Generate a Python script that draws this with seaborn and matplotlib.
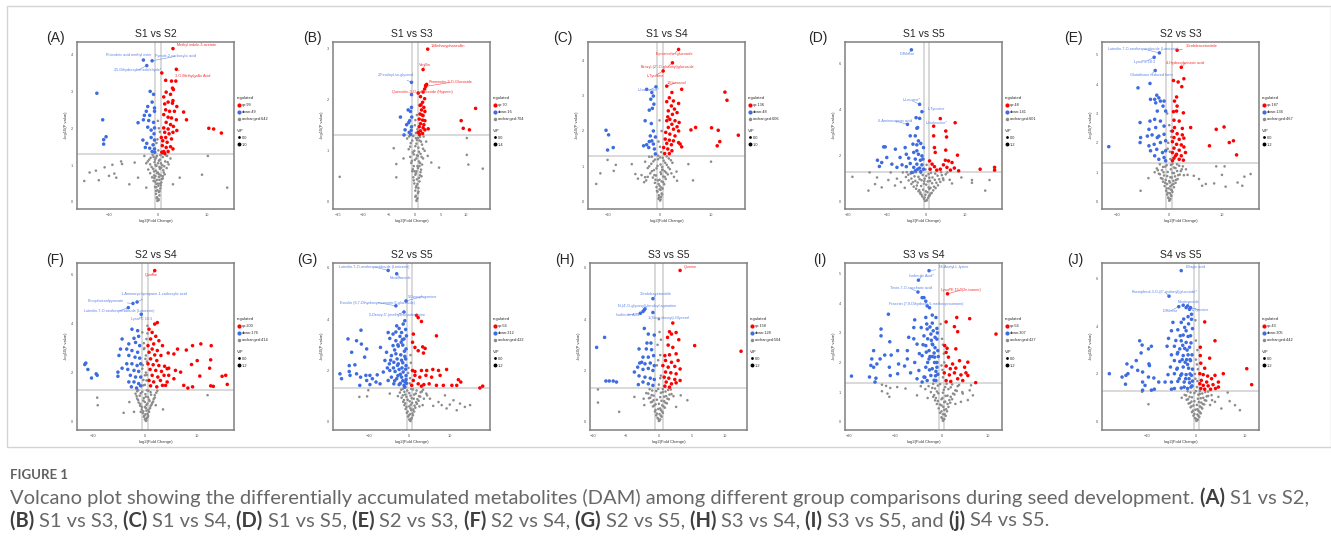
import matplotlib
matplotlib.use("Agg")
import matplotlib.pyplot as plt
from matplotlib.lines import Line2D
from matplotlib.patches import Rectangle
import seaborn as sns
import pandas as pd

sns.set_style("white")
plt.rcParams["font.family"] = ["Liberation Sans", "DejaVu Sans"]

W, H = 1331, 540

# ---------------- data (log2 fold change, -log10 p) ----------------
# A: S1 vs S2
a_up = [(0.8,3.5),(1.6,3.3),(2.8,3.28),(3.7,3.28),(3.0,3.09),(3.2,3.05),(1.7,2.98),(2.6,2.92),(1.2,2.85),(3.1,2.75),
        (2.1,2.71),(1.4,2.66),(3.0,2.68),(3.9,2.59),(5.3,2.44),(5.9,2.23),(1.6,2.5),(2.4,2.46),(3.4,2.46),(1.2,2.37),
        (2.1,2.3),(2.8,2.28),(3.8,2.23),(1.7,2.16),(2.6,2.1),(3.2,2.05),(1.2,2.01),(2.1,1.98),(1.4,1.89),(2.3,1.85),
        (3.1,1.89),(3.9,1.94),(1.6,1.75),(1.0,1.66),(1.9,1.62),(2.8,1.71),(0.9,1.53),(1.7,1.48),(2.6,1.5),(1.2,1.37),
        (2.1,1.37),(3.1,1.44),(0.8,1.35),(1.4,1.32),(10.5,2.0),(11.5,1.98),(13.1,1.87),(0.7,1.75)]
a_down = [(-12.6,2.95),(-11.4,2.23),(-10.7,1.77),(-11.2,1.69),(-11.2,1.57),(-1.6,3.0),(-0.9,2.92),(-1.2,2.71),(-2.1,2.59),
          (-0.7,2.55),(-2.4,2.46),(-0.7,2.46),(-2.8,2.35),(-1.7,2.35),(-4.1,2.15),(-3.0,2.23),(-1.9,2.21),(-0.9,2.16),
          (-0.7,2.01),(-2.1,2.03),(-1.4,1.95),(-0.8,1.85),(-3.1,1.68),(-2.3,1.59),(-1.4,1.75),(-0.7,1.68),(-1.0,1.55),
          (-2.6,1.48),(-1.7,1.46),(-0.7,1.44),(-0.65,1.35),(-1.2,1.37)]
a_none = [(-0.1,0.03),(0.1,0.08),(-0.2,0.13),(0.3,0.18),(-0.4,0.22),(0.2,0.27),(-0.1,0.32),(0.5,0.37),(-0.6,0.41),(0.1,0.44),
          (-0.3,0.49),(0.7,0.53),(-0.9,0.57),(0.3,0.6),(1.0,0.64),(-1.2,0.67),(-0.5,0.7),(0.6,0.72),(1.4,0.75),(-1.6,0.78),
          (0.0,0.8),(-0.8,0.83),(1.1,0.86),(-2.0,0.88),(0.4,0.9),(1.8,0.92),(-1.3,0.95),(-0.3,0.98),(0.9,1.0),(2.2,1.02),
          (-2.4,1.05),(-0.7,1.08),(1.5,1.1),(0.2,1.12),(-1.8,1.15),(2.6,1.18),(-0.4,1.2),(1.0,1.22),(-2.8,1.25),(0.5,1.27),
          (-1.1,1.28),(0.1,1.4),(-0.3,1.6),(0.4,1.9),(0.0,2.2),(-0.2,0.6),(0.3,0.95),(-0.6,1.15),(0.0,0.5),(0.2,0.68),
          (-0.4,0.85),(0.6,1.05),(-1.5,1.2),(1.9,1.25),
          (0.15,0.05),(-0.25,0.1),(0.35,0.3),(-0.35,0.4),(0.45,0.5),(-0.55,0.55),(0.8,0.62),(-0.75,0.65),(0.25,0.75),
          (-0.15,0.78),(1.2,0.8),(-1.0,0.9),(0.7,0.93),(-0.5,1.0),(1.3,0.97),(-1.6,1.02),(0.0,1.05),(2.0,1.08),(-2.1,1.1),
          (0.4,1.15),(-0.9,1.22),(1.6,1.27),(-0.2,1.25),(0.8,1.3),(-0.1,1.7),(0.2,2.0),(-0.4,0.3),(0.6,0.45),(-0.8,0.72),
          (1.0,0.7),
          (-15.2,0.57),(-14.1,0.8),(-12.8,0.85),(-12.2,0.59),(-11.0,0.94),(-10.1,0.71),(-9.4,1.01),(-9.0,0.77),(-7.6,1.1),
          (-7.4,1.03),(-4.8,1.07),(-8.6,0.66),(10.3,1.25),(9.1,0.74),(14.3,0.39),(-4.1,0.66),(-5.9,0.48),(-2.4,0.39),
          (3.1,0.48),(4.5,0.66)]
a_named = [("Methyl indole-3-acetate", 3.1, 4.16, "up"), ("Ricinoleic acid methyl ester", -3.0, 3.85, "down"),
           ("Pyrrole-2-carboxylic acid", -1.2, 3.83, "down"), ("2,5-Dihydroxybenzaldehyde*", -2.3, 3.7, "down"),
           ("3-O-Methylgallic Acid", 3.8, 3.6, "up")]

# B: S1 vs S3
b_up = [(0.65,2.13),(1.6,2.15),(1.1,2.06),(1.9,2.02),(1.5,1.95),(1.0,1.89),(1.75,1.85),(1.3,1.8),(1.95,1.77),(1.0,1.72),
        (1.6,1.69),(0.85,1.62),(1.5,1.6),(1.95,1.59),(1.1,1.53),(1.75,1.51),(0.85,1.47),(1.6,1.45),(1.1,1.39),(1.95,1.41),
        (0.65,1.36),(1.5,1.34),(2.6,1.43),(11.8,1.83),(9.0,1.59),(9.4,1.44),(10.6,1.41),(2.1,2.28),(2.3,2.3),(1.2,1.9),
        (1.4,1.7),(0.9,1.32)]
b_down = [(-0.65,2.1),(-0.65,1.85),(-1.3,1.8),(-0.85,1.77),(-2.8,1.66),(-1.0,1.59),(-1.6,1.51),(-0.65,1.47),(-1.9,1.41),
          (-1.1,1.36),(-2.1,1.31),(-0.8,1.32),(-0.6,1.66),(-0.7,1.4),(-1.2,1.55)]
b_none = [(0.3,0.02),(0.5,0.07),(0.2,0.12),(0.6,0.17),(0.1,0.22),(0.7,0.27),(0.3,0.31),(-0.1,0.36),(0.9,0.4),(0.4,0.44),
          (-0.3,0.48),(1.0,0.52),(0.2,0.56),(-0.5,0.6),(1.2,0.63),(0.6,0.66),(-0.2,0.7),(1.4,0.73),(-0.7,0.76),(0.8,0.79),
          (0.0,0.82),(1.6,0.85),(-0.9,0.88),(0.4,0.91),(1.1,0.94),(-0.4,0.97),(1.9,1.0),(-1.2,1.03),(0.7,1.06),(0.1,1.09),
          (1.4,1.12),(-0.8,1.15),(2.2,1.18),(0.4,1.21),(-1.5,1.24),(1.0,1.27),(-0.3,1.29),(0.2,1.35),(0.5,1.42),(0.0,1.5),
          (0.3,0.6),(0.6,0.9),(0.9,1.2),(-0.1,1.0),(1.3,0.5),
          (0.4,0.05),(0.1,0.1),(0.7,0.2),(0.2,0.28),(0.5,0.35),(-0.2,0.42),(0.8,0.47),(0.1,0.53),(1.1,0.58),(-0.4,0.64),
          (0.5,0.7),(1.0,0.76),(-0.6,0.8),(0.3,0.85),(1.3,0.88),(-0.2,0.93),(0.8,0.98),(1.6,1.04),(-0.9,1.08),(0.3,1.14),
          (1.2,1.18),(-0.5,1.2),(0.6,1.25),(1.7,1.28),(-1.1,1.28),(0.1,1.6),(0.4,1.7),(0.2,1.25),(0.9,0.7),(-0.1,0.6),
          (-14.6,0.49),(-4.1,1.05),(-3.6,0.74),(4.7,0.67),(10.1,0.92),(10.1,1.25),(10.4,0.73),(13.2,0.65),(3.2,0.77),
          (-3.6,0.48),(2.5,0.9),(-2.2,0.85)]
b_named = [("1-Methoxyphaseollin", 2.5, 2.99, "up"), ("Vanillin", 1.6, 2.59, "up"),
           ("Rhamnetin-3-O-Glucoside", 2.1, 2.26, "up"), ("Quercetin-3-O-galactoside (Hyperin)", 1.9, 2.21, "up"),
           ("2-Feruloyl-sn-glycerol", -0.65, 2.34, "down")]

# C: S1 vs S4
c_up = [(4.3,3.18),(2.4,3.09),(1.9,2.94),(2.7,2.85),(1.4,2.83),(3.7,2.78),(2.3,2.71),(2.9,2.62),(1.7,2.57),(3.4,2.52),
        (2.5,2.47),(1.6,2.4),(2.0,2.33),(3.0,2.29),(3.8,2.24),(1.4,2.29),(2.4,2.19),(3.4,2.12),(1.7,2.1),(2.7,2.05),
        (3.7,2.0),(1.2,1.96),(2.0,1.91),(3.0,1.86),(1.1,1.77),(1.9,1.74),(2.7,1.72),(3.7,1.67),(1.4,1.65),(2.3,1.61),
        (0.8,1.53),(1.6,1.49),(2.4,1.44),(4.0,1.63),(4.3,1.55),(1.0,1.36),(1.9,1.36),
        (12.7,3.1),(13.1,2.87),(6.1,2.03),(7.0,2.1),(10.1,2.09),(11.4,2.02),(15.3,1.88),(11.7,1.7),(11.2,1.58)]
c_down = [(-2.5,3.18),(-1.5,3.09),(-1.2,2.99),(-1.7,2.9),(-1.1,2.76),(-2.0,2.59),(-1.4,2.64),(-2.8,2.29),(-1.6,2.21),
          (-1.2,2.0),(-1.8,1.86),(-0.8,1.83),(-1.5,1.72),(-2.0,1.7),(-1.2,1.63),(-3.1,1.58),(-2.1,1.53),(-1.0,1.49),
          (-2.5,1.61),(-0.8,1.35),(-10.4,2.02),(-9.9,1.89),(-10.1,1.46),(-9.0,1.53)]
c_none = [(0.1,0.03),(-0.2,0.08),(0.3,0.13),(-0.1,0.18),(0.4,0.23),(-0.4,0.28),(0.2,0.33),(0.6,0.37),(-0.6,0.41),(0.0,0.45),
          (0.9,0.49),(-0.9,0.53),(0.4,0.57),(-0.3,0.6),(1.2,0.64),(-1.3,0.68),(0.7,0.71),(-0.7,0.74),(1.6,0.77),(-1.8,0.8),
          (0.2,0.83),(1.0,0.86),(-1.1,0.89),(2.0,0.92),(-2.3,0.95),(0.5,0.98),(-0.4,1.01),(1.4,1.04),(-1.6,1.07),(2.5,1.1),
          (-2.8,1.13),(0.8,1.16),(-0.9,1.19),(1.8,1.22),(0.1,1.25),(-2.0,1.27),(0.3,1.4),(-0.2,1.7),(0.4,2.0),(0.0,2.3),
          (-3.5,0.75),(-4.2,0.65),(-3.0,0.55),(2.8,0.7),(3.3,0.85),(-2.6,0.6),(0.0,0.62),(0.5,0.9),
          (0.2,0.06),(-0.1,0.12),(0.5,0.2),(-0.5,0.3),(0.3,0.4),(-0.2,0.5),(0.7,0.55),(-0.8,0.62),(1.0,0.7),(-1.0,0.75),
          (0.3,0.78),(1.3,0.82),(-1.5,0.86),(0.6,0.9),(-0.6,0.94),(1.7,0.97),(-2.0,1.0),(0.2,1.05),(1.1,1.1),(-1.2,1.14),
          (2.2,1.17),(-0.3,1.2),(0.6,1.24),(-1.5,1.27),(1.4,1.28),(0.1,1.55),(-0.3,1.3),(2.3,0.8),(-2.3,0.7),(0.0,0.35),
          (-10.1,1.18),(-8.5,1.04),(-8.9,0.87),(-5.4,1.06),(-12.3,0.5),(5.6,1.06),(10.0,1.13),(-4.7,0.78),(-2.8,0.69),
          (3.4,0.59),(-11.5,0.8),(6.5,0.6)]
c_named = [("Epicatechin glucoside", 3.7, 4.31, "up"), ("Benzyl-(2''-O-glucosyl)glucoside", 2.5, 3.93, "up"),
           ("L-Tyrosine", 0.7, 3.7, "up"), ("1-Eicosanol", 1.4, 3.27, "up"), ("L-Isoleucine*", -0.7, 3.25, "down")]

# D: S1 vs S5
d_up = [(3.6,3.61),(7.4,3.43),(1.9,3.28),(5.0,3.07),(5.2,2.81),(1.9,2.86),(2.1,2.35),(2.3,2.14),(8.0,2.02),(5.0,2.24),
        (0.85,1.77),(1.5,1.63),(2.1,1.52),(4.9,1.8),(5.7,1.77),(6.6,1.7),(4.4,1.6),(5.3,1.49),(7.2,1.46),(1.0,1.41),
        (2.7,1.37),(8.3,1.34),(13.8,1.41),(17.5,1.49),(17.5,1.37),(3.6,1.41),(6.2,1.37)]
d_down = [(-2.6,3.65),(-2.2,3.22),(-2.4,3.19),(-4.1,2.86),(-2.8,2.86),(-2.0,2.64),(-3.4,2.5),(-2.4,2.47),(-1.4,2.53),
          (-5.4,2.35),(-7.9,2.28),(-10.5,2.38),(-10.9,2.38),(-5.1,2.06),(-3.2,2.14),(-2.0,2.06),(-1.1,1.99),(-6.7,1.92),
          (-4.5,1.89),(-2.8,1.85),(-1.5,1.8),(-10.1,1.92),(-12.5,1.8),(-11.4,1.7),(-12.0,1.53),(-8.8,1.63),(-6.2,1.6),
          (-4.1,1.66),(-2.4,1.63),(-1.1,1.6),(-5.1,1.52),(-3.2,1.49),(-1.7,1.46),(-0.7,1.41),(-2.8,1.34),(-1.4,1.31),
          (-7.5,1.49),(-3.7,1.27),(-2.2,1.41),(-0.85,1.85),(-0.7,2.35),(-2.4,2.21)]
d_none = [(-0.3,0.03),(0.2,0.08),(-0.6,0.12),(0.5,0.17),(-1.0,0.22),(0.9,0.27),(-0.2,0.3),(-1.5,0.34),(1.4,0.38),(0.3,0.41),
          (-2.0,0.45),(1.8,0.49),(-0.8,0.52),(-2.6,0.56),(2.4,0.59),(0.6,0.62),(-3.2,0.65),(-1.3,0.68),(3.0,0.71),(0.0,0.74),
          (-3.8,0.77),(1.5,0.8),(-2.2,0.83),(3.6,0.86),(-0.5,0.89),(-4.5,0.92),(2.2,0.95),(-1.7,0.98),(4.3,1.01),(0.8,1.04),
          (-5.2,1.07),(-3.0,1.1),(2.9,1.13),(-0.9,1.16),(5.0,1.19),(-4.0,1.22),(1.2,1.25),(-6.0,1.27),(3.8,1.28),(-2.6,1.28),
          (-0.2,1.4),(0.1,1.6),(-1.5,0.4),(1.1,0.6),(-2.8,0.9),(-6.5,0.85),(-7.5,1.0),(6.0,0.95),(-5.5,0.6),
          (0.1,0.05),(-0.4,0.18),(0.7,0.25),(-1.2,0.3),(1.1,0.35),(-0.1,0.45),(-1.8,0.5),(0.8,0.55),(2.0,0.65),(-2.4,0.7),
          (-0.6,0.78),(2.6,0.82),(-3.4,0.85),(0.4,0.88),(-1.2,0.93),(3.3,0.97),(-3.8,1.0),(1.6,1.05),(-2.0,1.08),(0.0,1.12),
          (4.0,1.15),(-4.6,1.17),(2.3,1.22),(-1.4,1.25),(5.4,1.27),(-5.0,1.28),(0.6,1.2),(-3.3,1.25),(-0.4,1.0),(1.0,0.9),
          (-18.9,1.08),(-14.5,1.27),(-12.6,1.05),(-13.1,0.76),(-14.8,0.48),(-11.4,0.62),(-9.1,1.27),(-9.7,0.94),(9.0,1.05),
          (11.7,0.94),(11.7,0.82),(16.2,0.94),(15.1,0.48),(6.6,0.79),(4.4,0.94),(-8.0,0.7)]
d_named = [("D-Ribose", -3.8, 6.6, "down"), ("L-Leucine*", -1.7, 4.23, "down"), ("L-Tyrosine", -1.1, 3.91, "down"),
           ("6-Aminocaproic acid", -4.8, 3.36, "down"), ("L-Isoleucine*", -1.7, 3.62, "down")]

# E: S2 vs S3
e_up = [(0.8,4.12),(2.8,4.18),(1.7,4.07),(2.4,3.91),(1.4,3.56),(1.0,3.42),(1.5,3.25),(0.8,3.06),(1.4,3.08),(2.7,3.02),
        (0.9,2.77),(1.9,2.74),(1.0,2.52),(2.5,2.49),(4.1,2.52),(0.6,2.4),(1.5,2.31),(2.5,2.27),(0.9,2.18),(1.9,2.12),
        (2.8,2.16),(0.6,2.04),(1.4,1.95),(2.3,1.93),(0.9,1.82),(1.9,1.75),(2.8,1.86),(0.6,1.67),(1.4,1.61),(2.3,1.56),
        (0.9,1.48),(1.9,1.44),(0.6,1.39),(1.2,1.56),(2.7,1.41),(9.0,2.46),(10.5,2.54),(12.3,2.07),(11.5,2.01),(7.7,1.9),
        (12.9,1.59),(3.1,1.67)]
e_down = [(-6.0,3.87),(-3.7,4.02),(-2.4,3.62),(-3.6,3.48),(-2.8,3.48),(-2.0,3.53),(-1.7,3.42),(-2.6,3.36),(-1.0,3.42),
          (-2.3,3.08),(-0.7,3.08),(-1.2,3.25),(-5.6,2.69),(-3.7,2.74),(-2.8,2.8),(-1.7,2.74),(-3.9,2.46),(-2.6,2.52),
          (-1.0,2.57),(-5.5,2.18),(-5.6,2.01),(-4.2,2.23),(-3.3,2.27),(-2.0,2.23),(-1.0,2.29),(-3.9,1.9),(-2.9,1.95),
          (-1.7,2.01),(-0.7,2.07),(-3.6,1.73),(-2.4,1.78),(-1.3,1.67),(-2.8,1.56),(-1.0,1.5),(-2.0,1.44),(-0.7,1.39),
          (-11.6,1.87),(-0.7,1.73),(-2.3,2.18)]
e_none = [(0.0,0.03),(0.2,0.09),(-0.2,0.14),(0.4,0.19),(-0.4,0.24),(0.1,0.29),(0.6,0.33),(-0.6,0.37),(0.3,0.41),(-0.1,0.45),
          (0.9,0.49),(-0.9,0.53),(0.5,0.57),(-0.4,0.6),(1.2,0.64),(-1.2,0.68),(0.8,0.71),(-0.7,0.74),(1.6,0.77),(-1.6,0.8),
          (0.2,0.83),(1.1,0.86),(-1.0,0.89),(2.0,0.92),(-2.0,0.95),(0.6,0.98),(-0.3,1.01),(1.5,1.04),(-1.4,1.07),(2.4,1.1),
          (-2.4,1.13),(0.9,1.16),(-0.8,1.19),(1.9,1.22),(0.3,1.25),(-1.8,1.27),(0.2,1.45),(-0.3,1.8),(0.4,2.2),(0.0,2.6),
          (-0.4,3.0),(2.8,0.9),(3.2,1.1),(-2.8,1.0),(0.1,0.65),
          (0.1,0.06),(-0.1,0.11),(0.3,0.22),(-0.3,0.3),(0.5,0.38),(-0.5,0.45),(0.2,0.52),(0.8,0.6),(-0.8,0.64),(0.0,0.7),
          (1.3,0.74),(-1.3,0.78),(0.5,0.82),(-0.4,0.87),(1.7,0.9),(-1.8,0.93),(0.9,0.97),(-1.1,1.0),(2.2,1.04),(-2.2,1.07),
          (0.3,1.1),(1.2,1.14),(-1.2,1.18),(2.6,1.2),(-0.5,1.24),(1.5,1.27),(0.6,1.28),(0.1,1.7),(-0.2,2.0),(0.3,2.4),
          (-5.5,0.37),(9.0,1.2),(10.6,1.2),(10.1,0.91),(15.6,0.94),(14.4,0.85),(4.7,0.88),(5.7,0.77),(7.0,0.6),(8.6,0.62),
          (10.8,0.51),(13.1,0.65),(14.0,0.54),(3.5,0.91),(6.3,0.54),(-4.0,0.8)]
e_named = [("Luteolin-7-O-neohesperidoside (Lonicerin)", -1.9, 5.06, "down"), ("3-Indoleacetonitrile", 1.5, 5.15, "up"),
           ("LysoPC 18:3", -2.9, 4.91, "down"), ("4-Hydroxybenzoic acid", 2.3, 4.57, "up"),
           ("Glutathione reduced form", -2.7, 4.46, "down")]

# F: S2 vs S4
f_up = [(0.8,3.77),(1.9,3.98),(2.4,4.04),(1.4,3.64),(2.1,3.48),(1.1,3.37),(2.7,3.3),(1.7,3.17),(0.6,3.1),(3.4,3.1),
        (1.4,2.96),(2.4,2.9),(0.8,2.83),(1.9,2.72),(3.1,2.7),(1.1,2.56),(2.3,2.49),(0.6,2.36),(1.6,2.32),(2.7,2.29),
        (3.8,2.26),(1.0,2.13),(2.1,2.09),(3.2,2.05),(4.3,2.16),(1.4,1.89),(2.5,1.82),(3.7,1.89),(0.8,1.68),(1.7,1.62),
        (3.0,1.68),(1.1,1.46),(2.3,1.42),(3.4,1.48),(4.5,2.8),(5.6,2.76),(6.3,2.96),(8.0,2.92),(9.2,3.1),(10.8,3.17),
        (12.8,3.1),(12.7,2.52),(9.0,2.33),(10.1,2.49),(4.6,2.18),(5.9,2.09),(6.9,2.02),(5.6,1.75),(4.3,1.62),(4.0,1.48),
        (10.6,1.86),(12.5,2.18),(14.9,1.85),(15.6,1.89),(15.9,1.52),(13.2,1.44),(12.7,1.46),(7.5,1.48),(8.3,1.37),
        (9.2,1.42),(4.6,1.89)]
f_down = [(-2.5,3.77),(-1.4,3.71),(-4.4,3.37),(-2.1,3.4),(-1.2,3.48),(-3.1,3.17),(-1.8,3.23),(-1.0,3.1),(-4.7,2.96),
          (-3.5,2.96),(-2.5,2.9),(-1.4,2.83),(-5.0,2.7),(-3.1,2.7),(-1.9,2.63),(-1.0,2.59),(-3.5,2.36),(-2.5,2.36),
          (-1.5,2.29),(-0.8,2.36),(-4.4,2.18),(-3.3,2.13),(-2.1,2.09),(-1.2,2.05),(-2.8,1.89),(-1.8,1.82),(-0.8,1.82),
          (-3.1,1.62),(-2.1,1.62),(-1.2,1.55),(-2.6,1.42),(-1.6,1.37),(-0.8,1.46),(-5.2,2.02),(-5.2,1.85),(-11.4,2.39),
          (-11.6,2.33),(-11.0,2.13),(-10.3,1.78),(-9.4,1.95),(-9.2,1.89)]
f_none = [(0.2,0.03),(0.0,0.09),(0.4,0.15),(-0.2,0.2),(0.6,0.25),(0.1,0.3),(-0.4,0.35),(0.8,0.4),(0.3,0.45),(-0.6,0.5),
          (1.0,0.55),(0.0,0.6),(-0.9,0.65),(1.3,0.7),(0.5,0.74),(-1.2,0.78),(1.6,0.82),(-0.3,0.86),(0.8,0.9),(-1.5,0.94),
          (1.9,0.98),(0.2,1.02),(-1.0,1.06),(1.2,1.1),(-1.8,1.14),(2.2,1.18),(-0.5,1.22),(0.7,1.26),(-1.3,1.28),(0.0,1.5),
          (0.4,1.9),(-0.4,2.3),(0.2,2.7),(-0.2,3.2),(0.5,3.6),(0.5,3.91),(-0.5,3.64),(0.3,3.37),(-0.2,2.96),(0.1,2.56),
          (-0.5,2.16),(0.0,1.89),(0.3,1.68),(-0.3,1.48),(0.6,0.2),(-0.8,0.4),
          (0.3,0.06),(0.1,0.12),(-0.1,0.25),(0.5,0.32),(-0.3,0.42),(0.7,0.48),(0.2,0.55),(-0.6,0.6),(1.1,0.64),(0.3,0.68),
          (-0.9,0.72),(1.4,0.76),(0.0,0.8),(0.9,0.84),(-1.3,0.88),(1.7,0.92),(-0.2,0.96),(0.6,1.0),(-1.6,1.04),(1.9,1.08),
          (0.1,1.12),(-0.8,1.16),(1.1,1.2),(-1.5,1.24),(2.4,1.26),(0.4,1.28),(-0.3,1.7),(0.2,2.0),(0.4,2.45),(-0.1,3.0),
          (-9.2,0.98),(-9.1,0.67),(-4.1,0.36),(12.1,1.08),(2.1,0.67),(-2.1,0.4),(3.5,0.5),(-3.0,0.8)]
f_named = [("Quinine", 1.9, 6.16, "up"), ("1-Aminocyclopropane-1-carboxylic acid", -1.5, 4.88, "down"),
           ("Phosphoenolpyruvate", -2.3, 4.82, "down"), ("Luteolin-7-O-neohesperidoside (Lonicerin)", -3.2, 4.65, "down"),
           ("LysoPC 18:3", -0.7, 4.38, "down")]

# G: S2 vs S5
g_up = [(1.8,4.15),(2.2,4.06),(3.0,3.91),(6.7,3.35),(1.0,3.42),(0.8,3.1),(1.4,2.9),(3.3,2.92),(3.9,2.86),(2.2,2.77),
        (3.5,2.68),(0.8,2.0),(1.4,1.96),(3.0,2.0),(4.3,2.0),(5.8,2.04),(7.2,2.0),(9.2,2.04),(1.4,1.81),(2.6,1.74),
        (4.1,1.81),(5.5,1.74),(7.6,1.81),(1.0,1.61),(2.2,1.48),(3.6,1.45),(4.9,1.48),(6.7,1.42),(8.4,1.42),(10.5,1.42),
        (12.1,1.64),(12.7,1.55),(17.4,1.32),(18.1,1.39),(11.7,1.42),(0.6,1.42),(3.0,1.39)]
g_down = [(-11.9,3.57),(-15.1,3.23),(-13.0,3.16),(-14.2,2.71),(-11.8,3.03),(-10.5,2.84),(-11.0,2.52),(-14.8,2.19),
          (-13.4,2.22),(-14.8,1.96),(-14.6,1.81),(-17.1,1.87),(-16.7,1.68),(-13.0,1.87),(-12.0,1.74),(-10.7,1.81),
          (-9.7,1.81),(-12.2,1.42),(-10.5,1.61),(-9.1,1.68),(-7.9,1.83),(-7.1,2.9),(-7.2,1.48),(-8.2,1.55),(-9.7,1.45),
          (-5.2,3.48),(-3.1,3.74),(-2.5,3.64),(-1.5,3.81),(-1.1,3.94),(-4.8,3.25),(-3.3,3.16),(-2.3,3.33),(-1.3,3.23),
          (-4.0,2.97),(-2.7,2.95),(-1.6,2.99),(-0.8,2.84),(-5.6,2.71),(-4.4,2.58),(-3.3,2.65),(-2.1,2.61),(-1.1,2.55),
          (-6.0,2.39),(-4.9,2.26),(-3.8,2.32),(-2.7,2.26),(-1.6,2.3),(-0.8,2.19),(-4.8,2.0),(-3.5,1.96),(-2.5,2.04),
          (-1.5,1.94),(-4.4,1.74),(-3.1,1.68),(-1.9,1.74),(-0.8,1.65),(-3.8,1.48),(-2.5,1.45),(-1.3,1.42),(-5.2,1.61),
          (-6.4,1.94),(-0.7,3.35),(-1.9,3.48),(-4.0,3.42),(-2.0,3.1),(-1.2,2.75),(-3.0,2.45),(-2.2,1.85),(-1.0,1.55),
          (-0.9,3.6),(-1.7,3.2),(-2.8,3.0),(-3.6,2.8),(-0.9,2.45),(-1.9,2.4),(-2.9,2.2),(-3.9,2.1),(-0.9,2.05),(-1.8,2.1),
          (-2.8,1.8),(-3.6,1.6),(-0.8,1.8),(-1.6,1.6),(-2.2,1.5),(-1.1,1.35),(-0.7,1.5),(-4.6,2.4),(-5.4,2.1),(-3.3,3.5)]
g_none = [(0.3,0.03),(0.0,0.09),(0.6,0.15),(-0.3,0.2),(0.9,0.25),(0.2,0.3),(-0.6,0.35),(1.2,0.4),(0.5,0.45),(-0.9,0.5),
          (1.5,0.55),(0.0,0.6),(-1.2,0.65),(1.9,0.7),(0.7,0.74),(-1.5,0.78),(2.3,0.82),(-0.4,0.86),(1.1,0.9),(-1.9,0.94),
          (2.7,0.98),(0.3,1.02),(-1.0,1.06),(1.6,1.1),(-2.3,1.14),(3.1,1.18),(-0.5,1.22),(0.9,1.26),(-1.6,1.28),(0.1,1.5),
          (-0.3,1.9),(0.4,2.3),(3.6,0.9),(4.2,1.1),(2.5,0.6),(-2.8,1.0),
          (0.2,0.06),(0.5,0.12),(-0.1,0.25),(0.8,0.32),(-0.4,0.4),(1.0,0.48),(0.3,0.52),(-0.7,0.58),(1.3,0.63),(0.4,0.67),
          (-1.0,0.72),(1.7,0.76),(0.1,0.8),(-1.3,0.85),(2.0,0.88),(0.6,0.92),(-0.7,0.97),(2.4,1.0),(-1.6,1.03),(1.2,1.06),
          (0.0,1.12),(2.8,1.15),(-1.2,1.17),(1.8,1.22),(-2.0,1.25),(0.5,1.28),(3.4,1.25),(0.2,1.7),(-0.2,2.1),(0.3,2.6),
          (-12.3,0.97),(-10.4,0.99),(-10.1,1.23),(-4.8,1.1),(3.3,0.65),(5.1,0.9),(7.2,0.77),(8.8,1.03),(10.9,0.84),
          (12.5,0.71),(15.0,0.65),(13.7,0.58),(9.2,0.52),(11.7,0.45),(5.9,0.62),(8.0,0.65),(10.0,0.67),(4.4,1.03)]
g_named = [("Luteolin-7-O-neohesperidoside (Lonicerin)", -5.2, 5.9, "down"), ("Nicotinamide", -3.1, 5.77, "down"),
           ("5-Deoxyfagomine", -0.8, 4.71, "down"), ("Esculin (6,7-Dihydroxycoumarin-6-glucoside)", -3.3, 4.52, "down"),
           ("5'-Deoxy-5'-(methylthio)adenosine", -1.3, 4.28, "down")]

# H: S3 vs S5
h_up = [(2.1,3.85),(1.6,3.51),(1.9,3.42),(2.6,3.48),(1.3,3.29),(3.0,3.2),(5.4,2.97),(12.4,2.75),(1.4,2.99),(2.1,2.9),
        (0.9,2.58),(1.6,2.61),(2.6,2.65),(1.0,2.39),(1.9,2.32),(2.9,2.39),(0.6,2.19),(1.4,2.13),(2.4,2.16),(3.2,2.06),
        (1.0,1.94),(1.8,1.91),(2.6,1.87),(0.8,1.74),(1.5,1.7),(2.4,1.65),(3.2,1.61),(1.1,1.55),(1.9,1.48),(0.9,1.39),
        (1.6,1.35),(2.6,1.52)]
h_down = [(-8.2,3.29),(-9.4,2.9),(-8.0,1.59),(-7.5,1.59),(-6.9,1.59),(-6.4,1.55),(-2.2,3.64),(-1.6,3.42),(-1.8,3.07),
          (-1.2,3.07),(-0.7,3.38),(-3.0,2.84),(-1.9,2.84),(-1.1,2.81),(-2.4,2.52),(-1.6,2.52),(-0.8,2.58),(-2.9,2.29),
          (-2.1,2.26),(-1.3,2.29),(-0.7,2.19),(-3.2,2.13),(-2.4,2.04),(-1.6,2.08),(-0.9,2.0),(-3.0,1.79),(-2.1,1.74),
          (-1.3,1.7),(-0.7,1.65),(-2.4,1.55),(-1.6,1.48),(-0.9,1.42),(-3.1,1.45),(-3.7,1.94),(-2.6,2.32),(-2.4,4.3),
          (-2.1,4.4)]
h_none = [(0.0,0.03),(0.2,0.09),(-0.2,0.15),(0.4,0.2),(-0.4,0.25),(0.1,0.3),(0.6,0.35),(-0.6,0.4),(0.3,0.45),(-0.1,0.5),
          (0.9,0.55),(-0.9,0.6),(0.5,0.64),(-0.5,0.68),(1.2,0.72),(-1.2,0.76),(0.8,0.8),(-0.8,0.84),(1.5,0.88),(-1.5,0.92),
          (0.2,0.96),(1.1,1.0),(-1.1,1.04),(1.9,1.08),(-1.9,1.12),(0.6,1.16),(-0.4,1.2),(1.4,1.24),(-1.4,1.27),(0.0,1.45),
          (0.3,1.8),(-0.3,2.2),(0.2,2.6),(-0.2,3.0),(0.1,3.5),(2.2,1.0),(-2.3,0.9),
          (0.1,0.06),(-0.1,0.12),(0.3,0.24),(-0.3,0.32),(0.5,0.4),(-0.5,0.46),(0.2,0.52),(0.7,0.6),(-0.7,0.64),(0.0,0.7),
          (1.0,0.74),(-1.0,0.78),(0.4,0.82),(-0.3,0.86),(1.3,0.9),(-1.3,0.94),(0.8,0.98),(-0.8,1.02),(1.6,1.06),(-1.6,1.1),
          (0.3,1.13),(1.0,1.18),(-1.0,1.22),(1.8,1.26),(-0.1,1.28),(0.6,1.28),(0.2,1.7),(-0.1,2.4),(0.3,3.2),(0.0,4.0),
          (-9.2,1.26),(-9.2,0.75),(-6.0,0.39),(-3.7,0.97),(3.3,1.03),(4.3,0.84),(2.6,0.58),(-2.2,0.65)]
h_named = [("Quinine", 3.2, 5.9, "up"), ("3-Indoleacetonitrile", -0.9, 4.8, "down"),
           ("N-(4'-O-glycosyl)-feruloyl agmatine", -2.2, 4.36, "down"), ("Isoferulic Acid", -2.8, 4.23, "down"),
           ("1-(Stearidonoyl)-Glycerol", -0.9, 4.26, "down")]

# I: S3 vs S4
i_up = [(3.3,3.52),(6.1,3.48),(11.8,2.96),(1.0,3.37),(2.8,3.21),(3.5,3.04),(0.7,2.57),(1.2,2.48),(3.1,2.46),(1.0,2.34),
        (1.5,2.18),(3.9,2.06),(5.7,2.01),(2.4,1.95),(1.0,1.88),(1.9,1.79),(3.1,1.81),(5.0,1.84),(0.6,1.65),(1.7,1.58),
        (2.8,1.65),(4.2,1.58),(5.3,1.65),(1.0,1.39),(2.0,1.36),(3.5,1.45),(4.6,1.39),(7.4,1.32),(5.7,1.56)]
i_down = [(-3.8,4.19),(-4.2,4.19),(-3.1,3.91),(-2.6,3.85),(-11.5,3.63),(-5.8,3.44),(-3.4,3.52),(-4.4,3.18),(-6.0,3.18),
          (-13.1,3.13),(-3.2,3.3),(-2.0,3.33),(-1.2,3.52),(-1.0,3.15),(-7.1,2.85),(-3.8,2.9),(-2.3,2.96),(-13.1,2.9),
          (-11.2,2.7),(-14.7,2.4),(-12.3,2.25),(-10.9,2.25),(-9.5,2.4),(-7.4,2.4),(-5.3,2.62),(-3.4,2.57),(-2.0,2.62),
          (-1.0,2.79),(-15.1,2.12),(-13.3,2.12),(-9.3,1.95),(-7.4,2.12),(-5.8,2.0),(-4.2,2.23),(-2.7,2.12),(-1.5,2.18),
          (-15.3,1.9),(-11.3,1.84),(-9.5,1.62),(-8.0,1.88),(-6.7,1.65),(-4.9,1.73),(-3.4,1.84),(-2.0,1.79),(-1.0,1.84),
          (-14.0,1.95),(-14.7,1.84),(-11.1,1.56),(-19.5,1.54),(-15.6,1.51),(-14.2,1.47),(-14.4,1.34),(-5.3,1.45),
          (-3.8,1.51),(-2.3,1.56),(-1.2,1.39),(-3.1,1.39),(-4.2,1.34),(-1.6,2.32),(-2.7,2.4),(-1.8,3.07),(-3.1,3.13),
          (-1.5,2.0),(-2.5,2.2),(-1.2,1.7),(-2.2,2.75),(-1.4,2.5),
          (-1.0,2.0),(-2.0,2.2),(-3.0,2.0),(-1.3,1.55),(-2.6,1.75),(-0.8,2.4),(-1.9,2.6),(-3.0,2.8),(-0.9,3.0),(-2.5,3.2),
          (-4.0,2.6),(-4.8,2.3),(-1.6,1.4),(-0.8,1.6),(-3.6,1.5),(-6.0,2.8),(-2.0,3.6),(-1.4,2.85),(-0.7,2.2),(-3.3,2.35)]
i_none = [(0.3,0.03),(0.6,0.09),(0.0,0.15),(0.9,0.2),(0.3,0.25),(-0.3,0.3),(1.2,0.35),(0.6,0.4),(-0.6,0.45),(1.5,0.5),
          (0.0,0.55),(-1.0,0.6),(1.9,0.64),(0.8,0.68),(-1.4,0.72),(2.3,0.76),(0.2,0.8),(-1.8,0.84),(1.3,0.88),(2.8,0.92),
          (-0.7,0.96),(-2.3,1.0),(3.3,1.04),(0.5,1.08),(-1.4,1.12),(2.0,1.16),(-2.8,1.2),(3.8,1.24),(-0.3,1.27),(1.1,1.28),
          (0.3,1.5),(0.0,1.9),(0.5,2.3),(0.1,2.8),(-0.2,3.3),(4.5,1.0),(3.0,0.6),(-3.5,1.1),(-4.5,1.2),(-3.0,0.8),
          (0.4,0.06),(0.1,0.12),(0.7,0.25),(0.0,0.35),(1.0,0.42),(0.4,0.5),(-0.3,0.58),(1.3,0.6),(0.6,0.66),(-0.8,0.7),
          (1.7,0.73),(0.0,0.76),(-1.2,0.8),(2.0,0.84),(0.9,0.87),(-1.6,0.9),(2.5,0.95),(0.3,0.98),(-1.0,1.02),(3.0,1.06),
          (1.5,1.1),(-2.0,1.14),(0.8,1.17),(3.5,1.2),(-0.8,1.22),(2.3,1.26),(-1.8,1.28),(0.2,1.75),(0.6,2.0),(0.3,2.6),
          (-12.9,1.25),(-12.0,1.21),(-11.1,1.14),(-9.6,1.17),(-12.9,1.03),(-11.7,0.95),(-11.3,0.84),(6.4,1.23),(6.1,1.06),
          (6.8,0.89),(5.7,0.73),(4.6,0.95),(4.2,0.67),(-7.8,1.12),(-5.3,0.89)]
i_named = [("N6-Acetyl-L-lysine", -2.7, 5.1, "down"), ("Isoferulic Acid*", -5.0, 4.78, "down"),
           ("Tricin-7-O-saccharic acid", -5.1, 4.38, "down"), ("LysoPE 15:0(2n isomer)", 1.3, 4.32, "up"),
           ("Fraxetin (7,8-Dihydroxy-6-methoxycoumarin)", -3.4, 4.07, "down")]

# J: S4 vs S5
j_up = [(1.7,4.18),(3.8,3.39),(0.8,3.12),(2.7,2.66),(0.8,2.77),(0.9,2.45),(1.7,2.24),(0.7,2.01),(1.4,1.97),(2.3,1.91),
        (3.8,1.94),(5.5,2.01),(3.1,1.8),(1.0,1.73),(2.1,1.66),(4.5,1.66),(1.4,1.52),(2.4,1.5),(3.4,1.55),(4.5,1.45),
        (0.9,1.39),(1.7,1.36),(2.9,1.36),(3.9,1.39),(10.3,2.22),(11.3,1.55),(0.7,1.59)]
j_down = [(-2.7,4.88),(-2.1,4.78),(-1.4,4.71),(-1.0,4.5),(-1.7,4.4),(-1.0,4.29),(-4.8,4.16),(-3.1,4.16),(-2.4,3.95),
          (-2.1,3.81),(-3.8,3.85),(-5.7,3.49),(-5.1,3.81),(-2.7,3.63),(-1.7,3.57),(-3.1,3.39),(-2.1,3.32),(-4.5,3.16),
          (-6.0,3.16),(-3.4,3.05),(-2.4,3.07),(-1.4,3.12),(-5.1,2.8),(-3.9,2.84),(-2.7,2.77),(-1.7,2.8),(-4.5,2.56),
          (-3.4,2.52),(-2.3,2.49),(-1.2,2.56),(-5.3,2.29),(-3.9,2.24),(-2.7,2.29),(-1.6,2.24),(-5.8,1.97),(-4.5,2.01),
          (-3.2,1.94),(-2.1,1.97),(-1.0,1.94),(-5.1,1.66),(-3.8,1.69),(-2.5,1.66),(-1.4,1.63),(-4.5,1.39),(-3.1,1.41),
          (-1.8,1.39),(-0.9,1.5),(-5.1,1.36),(-11.6,3.39),(-11.1,3.21),(-9.2,3.16),(-9.8,3.05),(-11.3,2.88),(-12.3,2.56),
          (-14.2,2.42),(-13.2,2.29),(-12.0,2.15),(-11.0,2.08),(-9.7,2.42),(-9.6,2.35),(-17.8,2.01),(-15.2,1.87),
          (-14.4,1.94),(-14.0,2.01),(-14.5,1.57),(-11.0,1.66),(-10.5,1.52),(-9.8,1.87),(-8.7,1.83),(-7.7,1.66),
          (-6.4,1.66),(-9.2,1.32),(-8.6,1.36),(-11.0,1.32),(-1.3,2.0),(-2.0,2.6),(-1.1,3.3),(-3.0,2.0),(-1.5,1.8),
          (-0.8,2.2),(-1.8,2.4),(-2.9,2.6),(-0.9,2.8),(-1.9,3.0),(-2.8,3.2),(-1.2,3.6),(-3.3,3.6),(-0.8,1.7),(-2.2,1.8),
          (-3.5,1.8),(-1.1,1.45),(-2.5,1.45),(-4.0,2.2),(-0.8,3.9),(-2.6,4.3),(-1.6,4.1),(-3.8,2.9),(-4.2,3.4),(-1.3,2.6)]
j_none = [(0.0,0.03),(0.3,0.09),(-0.3,0.15),(0.6,0.2),(-0.6,0.25),(0.2,0.3),(0.9,0.35),(-0.9,0.4),(0.4,0.45),(-0.2,0.5),
          (1.2,0.55),(-1.2,0.6),(0.7,0.64),(-0.6,0.68),(1.6,0.72),(-1.6,0.76),(1.0,0.8),(-1.0,0.84),(2.0,0.88),(-2.0,0.92),
          (0.3,0.96),(1.4,1.0),(-1.4,1.04),(2.4,1.08),(-2.4,1.12),(0.7,1.16),(-0.4,1.2),(1.8,1.24),(-1.8,1.27),(0.1,1.45),
          (-0.2,1.8),(0.3,2.2),(-0.1,2.6),(0.2,3.0),(-0.2,4.25),(2.8,0.7),(3.2,0.9),(-3.0,1.0),
          (0.1,0.06),(-0.1,0.12),(0.4,0.24),(-0.4,0.32),(0.7,0.4),(-0.7,0.46),(0.2,0.52),(1.0,0.6),(-1.0,0.64),(0.1,0.7),
          (1.3,0.74),(-1.3,0.78),(0.5,0.82),(-0.4,0.86),(1.7,0.9),(-1.7,0.94),(0.9,0.98),(-0.9,1.02),(2.1,1.06),(-2.1,1.1),
          (0.4,1.13),(1.2,1.18),(-1.2,1.22),(2.4,1.26),(-0.1,1.28),(0.7,1.28),(0.2,1.7),(-0.3,2.0),(0.1,2.4),(-0.1,3.4),
          (-11.1,1.25),(-9.8,0.73),(4.5,1.04),(6.4,1.22),(6.8,0.86),(7.9,0.69),(8.9,0.48),(5.1,0.55),(3.8,0.83),(3.1,1.11)]
j_named = [("Ellagic acid", -3.1, 6.33, "down"), ("Kaempferol-3-O-(6''-malonyl)glucoside*", -5.6, 5.26, "down"),
           ("Nicotinamide", -1.8, 4.85, "down"), ("D-Ribose", -3.6, 4.82, "down"), ("L-Tyrosine", -1.2, 4.78, "down")]

titles = ["S1 vs S2", "S1 vs S3", "S1 vs S4", "S1 vs S5", "S2 vs S3",
          "S2 vs S4", "S2 vs S5", "S3 vs S5", "S3 vs S4", "S4 vs S5"]
letters = ["(A)", "(B)", "(C)", "(D)", "(E)", "(F)", "(G)", "(H)", "(I)", "(J)"]
counts = [(99, 49, 642), (70, 16, 704), (136, 48, 606), (48, 141, 601), (187, 136, 467),
          (200, 176, 414), (56, 312, 422), (158, 128, 504), (56, 307, 427), (43, 305, 442)]
vip_max = ["1.0", "1.4", "1.0", "1.2", "1.2", "1.2", "1.2", "1.2", "1.2", "1.2"]
groups = [(a_up, a_down, a_none, a_named), (b_up, b_down, b_none, b_named), (c_up, c_down, c_none, c_named),
          (d_up, d_down, d_none, d_named), (e_up, e_down, e_none, e_named), (f_up, f_down, f_none, f_named),
          (g_up, g_down, g_none, g_named), (h_up, h_down, h_none, h_named), (i_up, i_down, i_none, i_named),
          (j_up, j_down, j_none, j_named)]

# ---------------- layout ----------------
xlims = [(-16.7, 15.7), (-15.9, 14.6), (-13.9, 16.6), (-20.8, 19.4), (-12.9, 17.2),
         (-13.1, 17.2), (-18.8, 19.9), (-10.4, 13.3), (-20.9, 13.1), (-19.3, 12.8)]
ylims = [(-0.19, 4.34), (-0.14, 3.13), (-0.21, 4.52), (-0.32, 6.94), (-0.25, 5.43),
         (-0.34, 6.47), (-0.32, 6.19), (-0.32, 6.19), (-0.28, 5.36), (-0.35, 6.65)]
xticks = [[-10, 0, 10], [-15, -10, -5, 0, 5, 10], [-10, 0, 10], [-20, -10, 0, 10], [-10, 0, 10],
          [-10, 0, 10], [-10, 0, 10], [-10, -5, 0, 5, 10], [-20, -10, 0, 10], [-10, 0, 10]]
yticks = [[0, 1, 2, 3, 4], [0, 1, 2, 3], [0, 1, 2, 3, 4], [0, 2, 4, 6], [0, 1, 2, 3, 4, 5],
          [0, 2, 4, 6], [0, 2, 4, 6], [0, 2, 4, 6], [0, 1, 2, 3, 4, 5], [0, 2, 4, 6]]
label_pos = [
    [(7.9, 4.27), (-6.0, 4.0), (3.6, 3.95), (-4.1, 3.58), (7.2, 3.42)],
    [(6.5, 3.06), (1.9, 2.68), (6.9, 2.34), (1.5, 2.15), (-3.7, 2.49)],
    [(2.9, 4.18), (1.6, 3.82), (-0.8, 3.57), (3.2, 3.37), (-2.1, 3.15)],
    [(-4.7, 6.4), (-3.8, 4.4), (2.7, 4.04), (-7.9, 3.5), (2.6, 3.4)],
    [(-4.9, 5.19), (6.3, 5.28), (-4.7, 4.75), (3.1, 4.72), (-3.5, 4.32)],
    [(1.3, 5.97), (1.7, 5.22), (-7.6, 4.92), (-5.0, 4.51), (-0.7, 4.2)],
    [(-8.6, 6.04), (-2.1, 5.59), (3.2, 4.88), (-7.9, 4.65), (-3.0, 4.18)],
    [(4.7, 6.03), (-0.4, 4.97), (-1.8, 4.52), (-4.7, 4.17), (1.5, 4.03)],
    [(2.8, 5.22), (-4.3, 4.91), (-6.7, 4.5), (4.1, 4.44), (-3.4, 3.98)],
    [(-0.2, 6.47), (-6.4, 5.43), (-1.5, 5.03), (-5.3, 4.64), (0.8, 4.67)],
]
ax_left = [77, 333, 588, 845, 1102, 77, 333, 590, 845, 1102]
ax_top = [42] * 5 + [263] * 5
ax_w, ax_h = 157, 167
letter_x = [55, 312, 563, 818, 1073, 55, 307, 565, 820, 1075]
letter_y = [38] * 5 + [260] * 5

pal = {"up": "#FF0000", "down": "#3D6BE0", "unchanged": "#8C8C8C"}
txt_col = {"up": "#F03030", "down": "#5A82E6"}
fc_cut, p_cut = 0.585, 1.301

fig = plt.figure(figsize=(W / 100, H / 100), dpi=100)
fig.patch.set_facecolor("white")

# frame around the figure panels
fig.add_artist(Rectangle((7 / W, 1 - 447 / H), (W - 7) / W, 441 / H, transform=fig.transFigure,
                         fill=False, edgecolor="#D4D4D4", lw=1.0))

for k in range(10):
    up, down, none, named = groups[k]
    rows = [(x, y, "unchanged") for x, y in none]
    rows += [(x, y, "down") for x, y in down]
    rows += [(x, y, "up") for x, y in up]
    rows += [(x, y, g) for _, x, y, g in named]
    df = pd.DataFrame(rows, columns=["log2FC", "logP", "regulated"])
    df["VIP"] = ["0.0" if g == "unchanged" else "1.0" for g in df["regulated"]]

    ax = fig.add_axes([ax_left[k] / W, 1 - (ax_top[k] + ax_h) / H, ax_w / W, ax_h / H])
    ax.axvline(-fc_cut, color="#CFCFCF", lw=1.1, zorder=0)
    ax.axvline(fc_cut, color="#CFCFCF", lw=1.1, zorder=0)
    ax.axhline(p_cut, color="#CFCFCF", lw=1.1, zorder=0)
    sns.scatterplot(data=df, x="log2FC", y="logP", hue="regulated", size="VIP",
                    sizes={"0.0": 3.4, "1.0": 6.5}, palette=pal, linewidth=0, legend=False, ax=ax)

    for (name, x, y, g), (tx, ty) in zip(named, label_pos[k]):
        ax.annotate(name, xy=(x, y), xytext=(tx, ty), fontsize=2.7, color=txt_col[g],
                    ha="center", va="center",
                    arrowprops=dict(arrowstyle="-", color=txt_col[g], lw=0.35, shrinkA=0.3, shrinkB=0.8))

    ax.set_xlim(*xlims[k])
    ax.set_ylim(*ylims[k])
    ax.set_xticks(xticks[k])
    ax.set_yticks(yticks[k])
    ax.set_xlabel("log2(Fold Change)", fontsize=3, labelpad=1.5, color="#333333")
    ax.set_ylabel("-log10(P value)", fontsize=3, labelpad=2, color="#333333")
    ax.tick_params(labelsize=2.8, length=1.5, width=0.4, pad=1.2, color="#666666", labelcolor="#555555")
    for s in ax.spines.values():
        s.set_color("#808080")
        s.set_linewidth(1.1)
    ax.set_title(titles[k], fontsize=7.5, pad=3.5)
    fig.text(letter_x[k] / W, 1 - letter_y[k] / H, letters[k], fontsize=10, ha="center", va="center")

    nu, nd, nn = counts[k]
    h1 = [Line2D([], [], ls="", marker="o", ms=2.0, color=pal["up"]),
          Line2D([], [], ls="", marker="o", ms=2.0, color=pal["down"]),
          Line2D([], [], ls="", marker="o", ms=1.5, color=pal["unchanged"])]
    leg1 = ax.legend(h1, [f"up:{nu}", f"down:{nd}", f"unchanged:{nn}"], title="regulated",
                     loc="upper left", bbox_to_anchor=(1.02, 0.675), frameon=False, fontsize=2.8,
                     title_fontsize=3, handlelength=0.7, handletextpad=0.4, labelspacing=0.75,
                     borderpad=0, borderaxespad=0)
    leg1._legend_box.align = "left"
    ax.add_artist(leg1)
    h2 = [Line2D([], [], ls="", marker="o", ms=1.0, color="black"),
          Line2D([], [], ls="", marker="o", ms=1.8, color="black")]
    leg2 = ax.legend(h2, ["0.0", vip_max[k]], title="VIP", loc="upper left", bbox_to_anchor=(1.02, 0.48),
                     frameon=False, fontsize=2.8, title_fontsize=3, handlelength=0.7, handletextpad=0.4,
                     labelspacing=0.75, borderpad=0, borderaxespad=0)
    leg2._legend_box.align = "left"

# ---------------- caption ----------------
cap_font = ["Lato", "DejaVu Sans"]
renderer = fig.canvas.get_renderer()


def advance(txt, weight, size):
    t = fig.text(0, 0, txt + "|", fontsize=size, fontweight=weight, family=cap_font)
    w1 = t.get_window_extent(renderer).width
    t.set_text("|")
    w2 = t.get_window_extent(renderer).width
    t.remove()
    return w1 - w2


line1 = [("Volcano plot showing the differentially accumulated metabolites (DAM) among different group "
          "comparisons during seed development. ", False), ("(A) ", True), ("S1 vs S2,", False)]
line2 = [("(B) ", True), ("S1 vs S3, ", False), ("(C) ", True), ("S1 vs S4, ", False), ("(D) ", True),
         ("S1 vs S5, ", False), ("(E) ", True), ("S2 vs S3, ", False), ("(F) ", True), ("S2 vs S4, ", False),
         ("(G) ", True), ("S2 vs S5, ", False), ("(H) ", True), ("S3 vs S4, ", False), ("(I) ", True),
         ("S3 vs S5, and ", False), ("(j) ", True), ("S4 vs S5.", False)]

base = 10
w_line1 = sum(advance(s, "bold" if b else "normal", base) for s, b in line1)
cap_size = base * 1306 / w_line1


def draw_line(parts, y):
    x = 10
    for s, b in parts:
        fig.text(x / W, 1 - y / H, s, fontsize=cap_size, family=cap_font,
                 fontweight="bold" if b else "normal", color="#3F3F3F" if b else "#686868",
                 ha="left", va="center")
        x += advance(s, "bold" if b else "normal", cap_size)


fig.text(10 / W, 1 - 475 / H, "FIGURE 1", fontsize=9.5, family=cap_font, fontweight="bold",
         color="#606060", ha="left", va="center")
draw_line(line1, 498)
draw_line(line2, 521)

fig.savefig("out.png", dpi=100, facecolor="white")
